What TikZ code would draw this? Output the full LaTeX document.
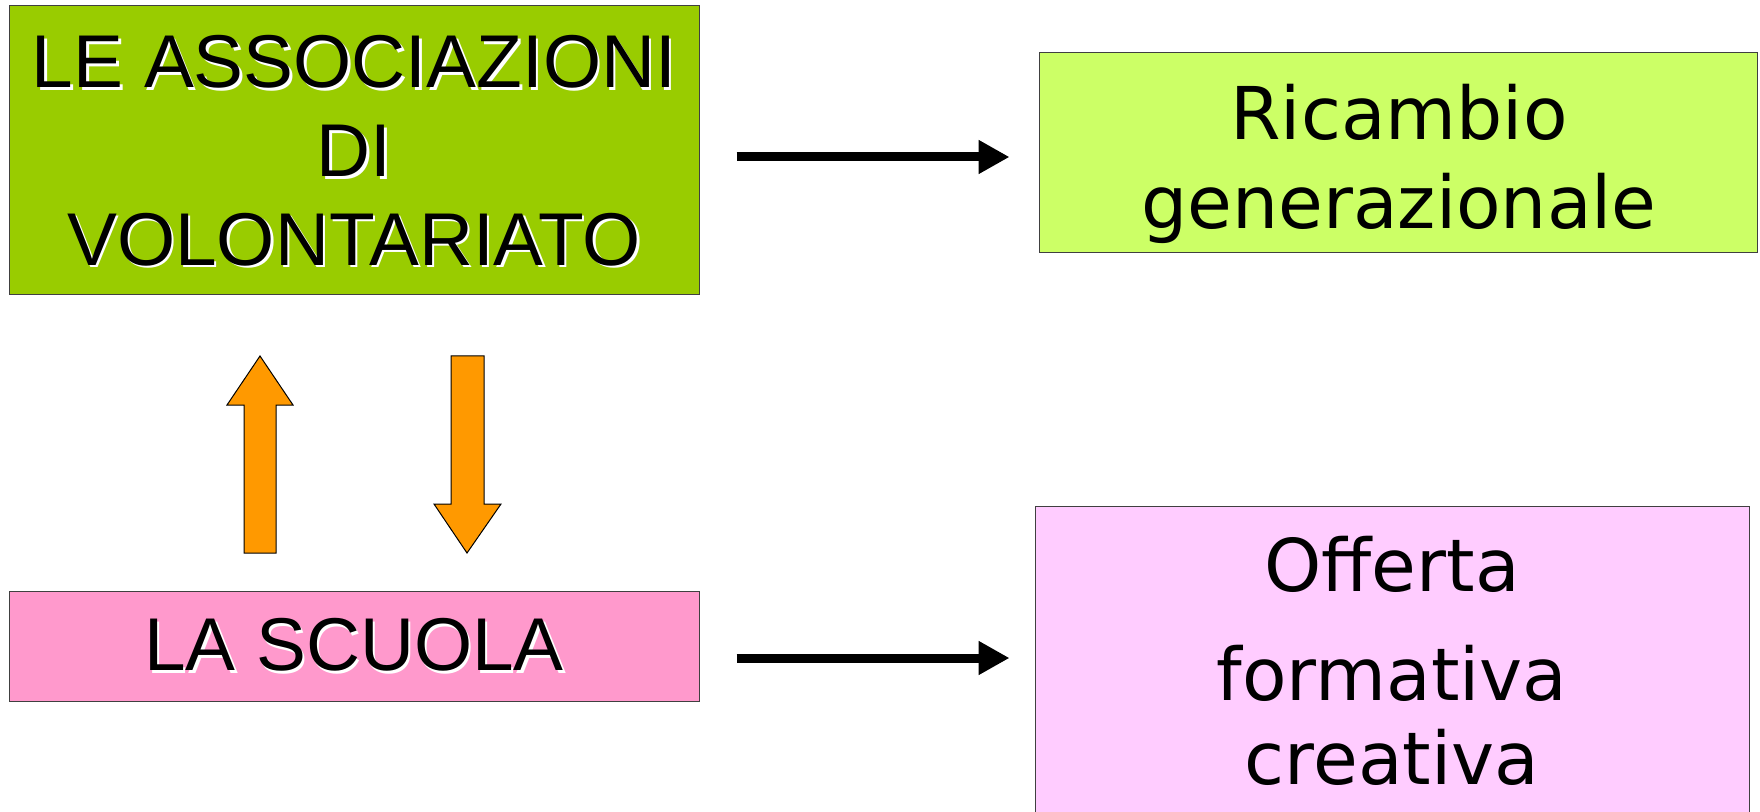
\documentclass[tikz,border=0pt]{standalone}
\usepackage{fontspec}
\setmainfont{Liberation Sans}
\newfontfamily\largafont{DejaVu Sans}
\usetikzlibrary{arrows.meta,positioning}
\definecolor{verdeassoc}{HTML}{99CC00}
\definecolor{verdechiaro}{HTML}{CCFF66}
\definecolor{rosascuola}{HTML}{FF99CC}
\definecolor{rosachiaro}{HTML}{FFCCFF}
\definecolor{arancio}{HTML}{FF9900}
\newcommand{\ombra}[1]{\makebox[0pt][l]{\hspace{1.3pt}\raisebox{-1.3pt}{\color{white}#1}}#1}
\begin{document}
\begin{tikzpicture}[x=0.5pt,y=-0.5pt,
    box/.style={draw=black!75,line width=0.5pt,inner sep=0pt},
    titolo/.style={align=center,inner sep=0pt,font=\fontsize{37.4}{44.3}\selectfont},
    esito/.style={align=center,inner sep=0pt,font=\largafont\fontsize{36.4}{44.5}\selectfont},
    freccia/.style={line width=4.5pt,-{Triangle[length=15.5pt,width=16pt]}},
    blocco/.style={fill=arancio,draw=black,line width=0.5pt,line join=miter}]
  \useasboundingbox (0,0) rectangle (1760,812);
  \node[box,fill=verdeassoc,minimum width=345pt,minimum height=144.5pt] (assoc) at (354,150.5) {};
  \node[titolo] (assoctesto) at (354,152) {\ombra{LE ASSOCIAZIONI}\\\ombra{DI}\\\ombra{VOLONTARIATO}};
  \node[box,fill=rosascuola,minimum width=345pt,minimum height=55pt] (scuola) at (354,646) {};
  \node[titolo] (scuolatesto) at (scuola.center) {\ombra{LA SCUOLA}};
  \node[box,fill=verdechiaro,minimum width=359pt,minimum height=100pt] (ricambio) at (1398,153) {};
  \node[esito] (ricambiotesto) at (1399,164) {Ricambio\\generazionale};
  \node[box,fill=rosachiaro,minimum width=357pt,minimum height=197pt] (offerta) at (1392,703) {};
  \node[esito,font=\largafont\fontsize{36.4}{42}\selectfont] (offertatesto) at (1392,661) {Offerta\\[12.5pt]formativa\\creativa};
  \coordinate (a1) at ([xshift=18.5pt,yshift=-3.25pt]assoc.east);
  \draw[freccia,shorten >=14.5pt] (a1) -- (a1 -| ricambio.west);
  \coordinate (s1) at ([xshift=18.5pt,yshift=-6pt]scuola.east);
  \draw[freccia,shorten >=12.5pt] (s1) -- (s1 -| offerta.west);
  \draw[blocco] (244,553) -- (244,405) -- (227,405) -- (260,356) -- (293,405) -- (276,405) -- (276,553) -- cycle;
  \draw[blocco] (451,356) -- (484,356) -- (484,504) -- (501,504) -- (467,553) -- (434,504) -- (451,504) -- cycle;
\end{tikzpicture}
\end{document}
